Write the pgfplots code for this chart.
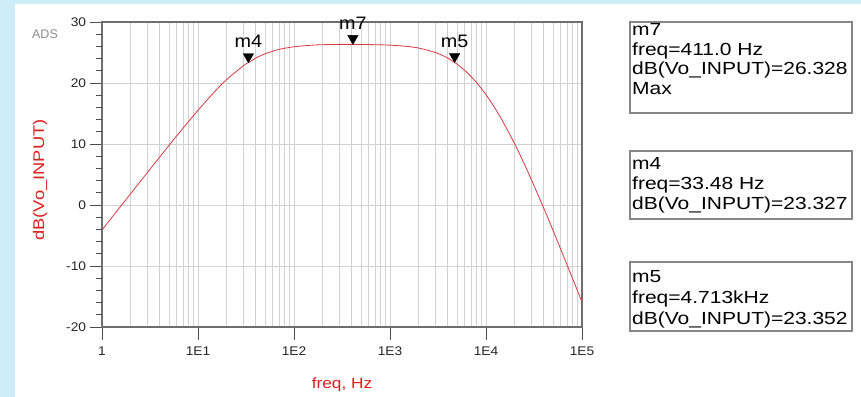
\documentclass[border=0pt]{standalone}
\usepackage{pgfplots}
\pgfplotsset{compat=1.18}
\usepackage{graphicx}
\usepackage{fontspec}
\setmainfont{Liberation Sans}
\definecolor{bgblue}{RGB}{205,236,248}
\definecolor{curvec}{RGB}{214,58,66}
\definecolor{gridc}{RGB}{210,210,210}
\definecolor{axc}{RGB}{110,110,110}
\definecolor{labred}{RGB}{225,30,30}
\definecolor{boxc}{RGB}{135,135,135}
\newcommand{\W}[2][1.12]{\scalebox{#1}[1]{#2}}
\newcommand{\tickfont}{\fontsize{12.5bp}{15bp}\selectfont}
\newcommand{\boxfont}{\fontsize{17.5bp}{20bp}\selectfont}
\newcommand{\mfont}{\fontsize{18bp}{20bp}\selectfont}
\begin{document}
\begin{tikzpicture}
\fill[bgblue] (-102bp,-70bp) rectangle (759bp,327bp);
\fill[white] (-87bp,-70bp) rectangle (759bp,323bp);
\begin{axis}[
  at={(0,0)}, anchor=south west,
  scale only axis, width=480bp, height=305bp,
  clip=false,
  xmode=log, log basis x=10,
  xmin=1, xmax=1e5, ymin=-20, ymax=30,
  xtick={1,10,100,1000,10000,100000},
  minor xtick={2,3,4,5,6,7,8,9,20,30,40,50,60,70,80,90,200,300,400,500,600,700,800,900,2000,3000,4000,5000,6000,7000,8000,9000,20000,30000,40000,50000,60000,70000,80000,90000},
  xticklabels={\W[1.1]{1},\W[1.1]{1E1},\W[1.1]{1E2},\W[1.1]{1E3},\W[1.1]{1E4},\W[1.1]{1E5}},
  ytick={-20,-10,0,10,20,30},
  yticklabels={\W[1.1]{-20},\W[1.1]{-10},\W[1.1]{0},\W[1.1]{10},\W[1.1]{20},\W[1.1]{30}},
  extra y ticks={-18,-16,-14,-12,-8,-6,-4,-2,2,4,6,8,12,14,16,18,22,24,26,28},
  extra y tick labels={},
  extra y tick style={major tick length=6bp, grid=none},
  grid=both,
  major grid style={gridc, line width=0.9bp},
  minor grid style={gridc, line width=0.9bp},
  minor tick length=0pt,
  major tick length=12.5bp,
  tick align=outside,
  tick pos=left,
  tick style={black!70, line width=0.9bp},
  axis line style={axc, line width=1.3bp},
  ticklabel style={font=\tickfont, text=black!85},
  xticklabel style={yshift=-4bp},
  xlabel={\W[1.15]{freq, Hz}},
  xlabel style={font=\fontsize{15bp}{18bp}\selectfont, text=labred, at={(axis description cs:0.5,-0.2)}, anchor=base},
  ylabel={\W[1.18]{dB(Vo\_INPUT)}},
  ylabel style={font=\fontsize{15.5bp}{18bp}\selectfont, text=labred, at={(axis description cs:-0.129,0.482)}, anchor=center},
]
\addplot[curvec, line width=0.8bp, smooth] table {
x y
1 -4.10
1.5 -0.58
2 1.91
3 5.41
5 9.79
7 12.62
10 15.53
15 18.63
20 20.60
30 22.89
33.48 23.33
40 24.09
50 24.79
70 25.51
100 25.94
150 26.19
200 26.28
300 26.33
411 26.33
500 26.32
700 26.28
1000 26.20
1500 26.00
2000 25.72
3000 24.98
4000 24.09
4713 23.35
5000 23.10
6000 22.08
7000 21.05
8000 20.04
10000 18.08
12000 16.23
15000 13.67
20000 9.95
25000 6.76
30000 4.01
40000 -0.54
50000 -4.19
60000 -7.24
70000 -9.84
80000 -12.11
100000 -15.90
};
\addplot[only marks, mark=triangle*, mark size=6bp, mark options={fill=black, draw=black, yshift=6bp, rotate=180}] coordinates {(33.48,23.327) (411,26.328) (4713,23.352)};
\node[anchor=base, inner sep=0pt, font=\mfont, yshift=15bp] at (axis cs:33.48,23.327) {\W[1.1]{m4}};
\node[anchor=base, inner sep=0pt, font=\mfont, yshift=15bp] at (axis cs:411,26.328) {\W[1.1]{m7}};
\node[anchor=base, inner sep=0pt, font=\mfont, yshift=15bp] at (axis cs:4713,23.352) {\W[1.1]{m5}};
\end{axis}
\node[text=black!45, font=\fontsize{12.5bp}{15bp}\selectfont, anchor=center] at (-57bp,293bp) {ADS};
% marker boxes
\draw[boxc, line width=1.2bp] (528bp,214bp) rectangle (750bp,305bp);
\node[anchor=base west, inner sep=0pt, font=\boxfont] at (530bp,291bp) {\W[1.2]{m7}};
\node[anchor=base west, inner sep=0pt, font=\boxfont] at (530bp,271.5bp) {\W[1.2]{freq=411.0 Hz}};
\node[anchor=base west, inner sep=0pt, font=\boxfont] at (530bp,252bp) {\W[1.2]{dB(Vo\_INPUT)=26.328}};
\node[anchor=base west, inner sep=0pt, font=\boxfont] at (530bp,232.5bp) {\W[1.2]{Max}};
\draw[boxc, line width=1.2bp] (528bp,108bp) rectangle (750bp,176bp);
\node[anchor=base west, inner sep=0pt, font=\boxfont] at (530bp,157bp) {\W[1.2]{m4}};
\node[anchor=base west, inner sep=0pt, font=\boxfont] at (530bp,137bp) {\W[1.2]{freq=33.48 Hz}};
\node[anchor=base west, inner sep=0pt, font=\boxfont] at (530bp,117bp) {\W[1.2]{dB(Vo\_INPUT)=23.327}};
\draw[boxc, line width=1.2bp] (528bp,-4bp) rectangle (750bp,65bp);
\node[anchor=base west, inner sep=0pt, font=\boxfont] at (530bp,44bp) {\W[1.2]{m5}};
\node[anchor=base west, inner sep=0pt, font=\boxfont] at (530bp,23.5bp) {\W[1.2]{freq=4.713kHz}};
\node[anchor=base west, inner sep=0pt, font=\boxfont] at (530bp,3bp) {\W[1.2]{dB(Vo\_INPUT)=23.352}};
\pgfresetboundingbox
\useasboundingbox (-102bp,-70bp) rectangle (759bp,327bp);
\end{tikzpicture}
\end{document}
